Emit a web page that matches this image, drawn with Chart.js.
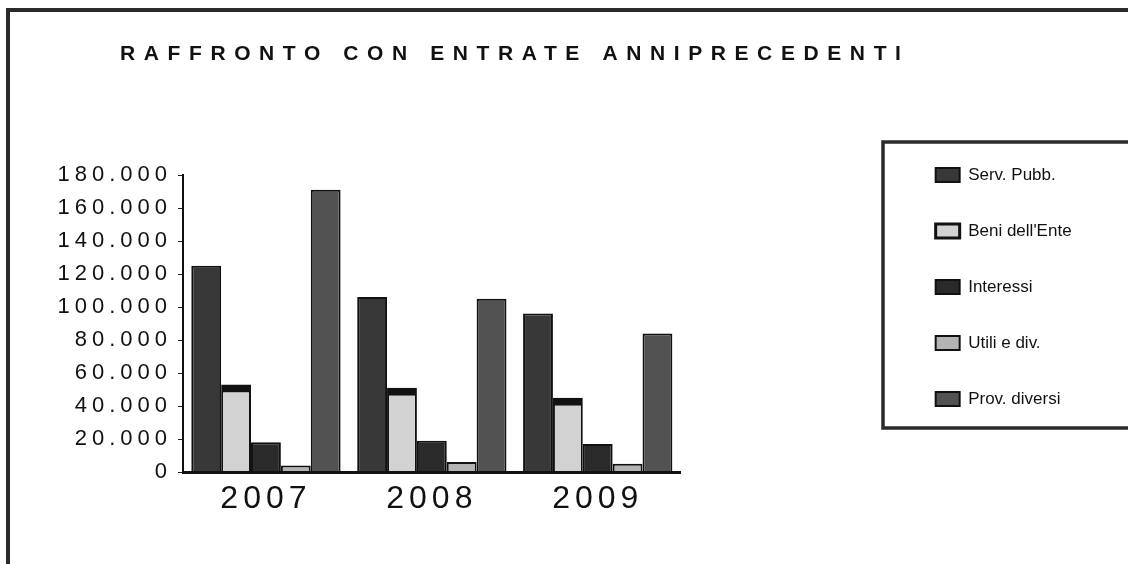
<!DOCTYPE html>
<html>
<head>
<meta charset="utf-8">
<script src="https://cdn.jsdelivr.net/npm/chart.js@4.4.1/dist/chart.umd.min.js"></script>
<style>
html,body{margin:0;padding:0;background:#fff;}
canvas{display:block;}
</style>
</head>
<body>
<canvas id="c" width="1128" height="564"></canvas>
<script>
// ---- data ----
const TITLE = 'RAFFRONTO CON ENTRATE ANNIPRECEDENTI';
const YEARS = ['2007', '2008', '2009'];
const SERIES_NAMES = ['Serv. Pubb.', "Beni dell'Ente", 'Interessi', 'Utili e div.', 'Prov. diversi'];
const SERV_PUBB = [125000, 106000, 96000];
const BENI_ENTE = [53000, 51000, 45000];
const INTERESSI = [18000, 19000, 17000];
const UTILI_DIV = [4000, 6000, 5000];
const PROV_DIVERSI = [171000, 105000, 84000];
const Y_MIN = 0;
const Y_MAX = 180000;
const Y_STEP = 20000;

// ---- styles ----
const FONT = "'Liberation Sans', Arial, Helvetica, sans-serif";
const AXIS_SPACING = '5px';
const LEGEND_SPACING = '0px';
const TITLE_SPACING = '8.6px';
const COLORS = ['#383838', '#d2d2d2', '#2a2a2a', '#b4b4b4', '#525252'];

function fmt(v) {
  return String(v).replace(/\B(?=(\d{3})+(?!\d))/g, '.');
}

const decor = {
  id: 'decor',
  beforeLayout(chart) { chart.ctx.letterSpacing = LEGEND_SPACING; },
  beforeDraw(chart) {
    const ctx = chart.ctx;
    ctx.letterSpacing = LEGEND_SPACING;
    ctx.save();
    ctx.strokeStyle = '#2b2b2b';
    ctx.lineWidth = 4;
    ctx.beginPath();
    ctx.moveTo(8, chart.height);
    ctx.lineTo(8, 10);
    ctx.lineTo(chart.width, 10);
    ctx.stroke();
    ctx.lineWidth = 3.5;
    ctx.strokeRect(883, 142, 300, 286);
    ctx.restore();
  },
  afterDatasetsDraw(chart) { chart.ctx.letterSpacing = AXIS_SPACING; },
  afterDraw(chart) {
    const ctx = chart.ctx;
    ctx.save();
    ctx.letterSpacing = TITLE_SPACING;
    ctx.font = 'bold 21px ' + FONT;
    ctx.fillStyle = '#111';
    ctx.textAlign = 'left';
    ctx.textBaseline = 'alphabetic';
    ctx.fillText(TITLE, 120, 60);
    ctx.restore();
  }
};

function axisMeasureStart(s) { s.ctx.letterSpacing = AXIS_SPACING; }
function axisMeasureEnd(s) { s.ctx.letterSpacing = LEGEND_SPACING; }

const seriesValues = [SERV_PUBB, BENI_ENTE, INTERESSI, UTILI_DIV, PROV_DIVERSI];
const datasets = seriesValues.map((vals, i) => ({
  label: SERIES_NAMES[i],
  data: vals,
  backgroundColor: COLORS[i],
  borderColor: '#111',
  borderWidth: i === 1 ? {top: 8, left: 2, right: 2, bottom: 0} : 2,
  barPercentage: 1,
  categoryPercentage: 0.9
}));

Chart.defaults.font.family = FONT;
Chart.defaults.color = '#111';

new Chart(document.getElementById('c'), {
  type: 'bar',
  data: { labels: YEARS, datasets },
  options: {
    responsive: false,
    animation: false,
    layout: { padding: { top: 10, right: 52, bottom: 0, left: 0 } },
    plugins: {
      title: { display: false },
      tooltip: { enabled: false },
      legend: {
        position: 'right',
        align: 'center',
        labels: {
          font: { size: 17 },
          color: '#111',
          boxWidth: 24,
          boxHeight: 14,
          padding: 39
        }
      }
    },
    scales: {
      x: {
        type: 'category',
        position: 'bottom',
        grid: { display: false, drawTicks: false },
        border: { display: true, color: '#111', width: 3, z: 1 },
        ticks: { font: { size: 32 }, color: '#111', padding: 8, z: 1, maxRotation: 0, autoSkip: false },
        beforeUpdate: axisMeasureStart,
        afterUpdate: axisMeasureEnd,
        afterFit(s) { s.height = 92; }
      },
      y: {
        type: 'linear',
        position: 'left',
        min: Y_MIN,
        max: Y_MAX,
        grid: { display: true, drawOnChartArea: false, tickLength: 5, color: '#222' },
        border: { display: true, color: '#111', width: 2, z: 1 },
        ticks: { stepSize: Y_STEP, font: { size: 22 }, color: '#111', padding: 6, z: 1, callback: (v) => fmt(v) },
        beforeUpdate: axisMeasureStart,
        afterUpdate: axisMeasureEnd,
        afterFit(s) { s.width = 183; }
      },
      xTopSpace: {
        type: 'linear',
        axis: 'x',
        position: 'top',
        display: true,
        grid: { display: false },
        border: { display: false },
        ticks: { display: false },
        afterFit(s) { s.height = 165; }
      },
      yRightSpace: {
        type: 'linear',
        axis: 'y',
        position: 'right',
        display: true,
        grid: { display: false },
        border: { display: false },
        ticks: { display: false },
        afterFit(s) { s.width = 216; }
      }
    }
  },
  plugins: [decor]
});
</script>
</body>
</html>
